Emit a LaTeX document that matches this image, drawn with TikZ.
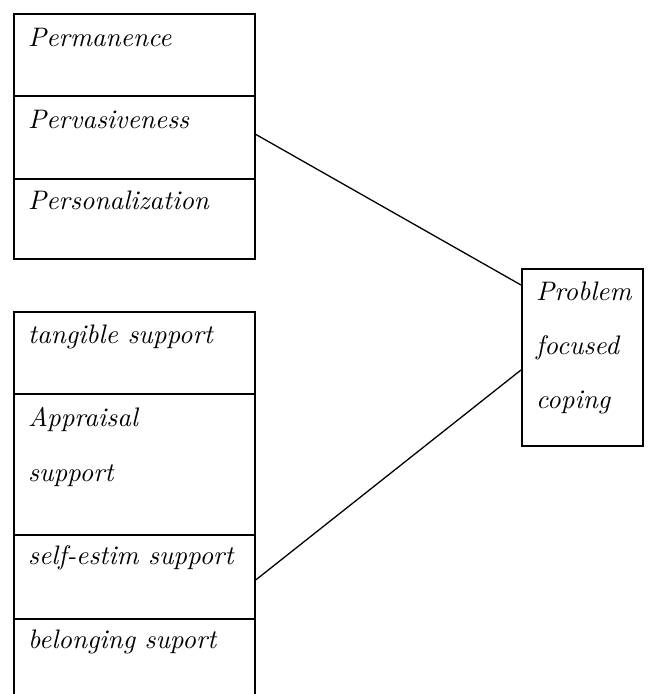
\documentclass[tikz,border=0pt]{standalone}
\usepackage{fontspec}
\newfontface\lmit{lmroman10-italic.otf}
\begin{document}
\begin{tikzpicture}[x=1pt,y=-1pt,
  cell/.style={draw,line width=1.8pt,rectangle,inner sep=0pt,anchor=north west},
  lbl/.style={inner sep=0pt,anchor=base west,font=\lmit\fontsize{26.8}{27}\selectfont},
  link/.style={line width=1.3pt}]
\useasboundingbox (0,0) rectangle (655,694);
% top box
\node[cell,minimum width=241pt,minimum height=82pt] (perm) at (13,13) {};
\node[cell,minimum width=241pt,minimum height=83pt] (perv) at (13,95) {};
\node[cell,minimum width=241pt,minimum height=80pt] (pers) at (13,178) {};
% bottom box
\node[cell,minimum width=241pt,minimum height=82pt] (tang) at (13,311) {};
\node[cell,minimum width=241pt,minimum height=141pt] (appr) at (13,393) {};
\node[cell,minimum width=241pt,minimum height=84pt] (self) at (13,534) {};
\node[cell,minimum width=241pt,minimum height=90pt] (belo) at (13,618) {};
% right box
\node[cell,minimum width=121pt,minimum height=177pt] (prob) at (521,268) {};
% labels
\node[lbl] (t1) at (28,46) {Permanence};
\node[lbl] (t2) at (28,128) {Pervasiveness};
\node[lbl] (t3) at (28,209) {Personalization};
\node[lbl] (t4) at (28,343) {tangible support};
\node[lbl] (t5) at (28,426) {Appraisal};
\node[lbl] (t6) at (28,481) {support};
\node[lbl] (t7) at (28,564) {self-estim support};
\node[lbl] (t8) at (28,648) {belonging suport};
\node[lbl] (t9) at (536,300) {Problem};
\node[lbl] (t10) at (536,354) {focused};
\node[lbl] (t11) at (536,408) {coping};
% connectors
\draw[link] ([yshift=3pt]perv.east) -- ([yshift=-17pt]prob.north west);
\draw[link] ([yshift=-3pt]self.east) -- ([yshift=-102pt]prob.north west);
\end{tikzpicture}
\end{document}
